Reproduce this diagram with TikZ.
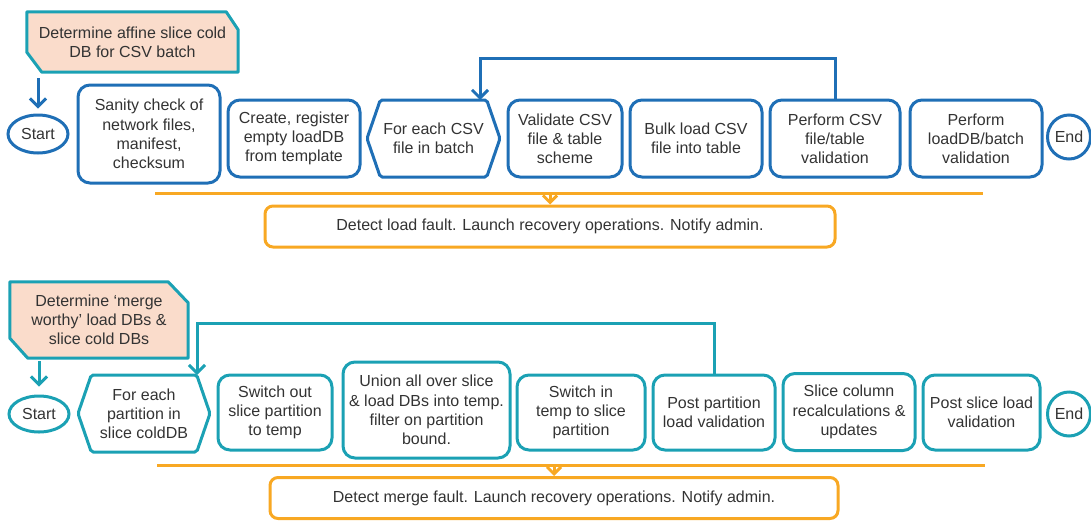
\documentclass[tikz,border=0pt]{standalone}
\usepackage{fontspec}
\setmainfont{Liberation Sans}
\usetikzlibrary{arrows.meta,shapes.geometric,shapes.symbols,backgrounds,calc}
\definecolor{cblue}{HTML}{1F6FB6}
\definecolor{cteal}{HTML}{1BA1B4}
\definecolor{corange}{HTML}{F8A823}
\definecolor{cpeach}{HTML}{FADCCB}
\definecolor{ctext}{HTML}{333333}
\begin{document}
\begin{tikzpicture}[x=1pt,y=-1pt,
  every node/.style={font=\fontsize{16}{19.2}\selectfont, text=ctext, align=center, inner sep=0pt},
  box/.style={draw, rectangle, rounded corners=12pt, line width=3pt},
  hexa/.style={signal, signal to=east and west, signal pointer angle=142, draw, line width=3pt, rounded corners=2pt},
  term/.style={ellipse, draw, line width=3pt},
  fault/.style={draw=corange, rectangle, rounded corners=8pt, line width=3pt},
  labelbox/.style={fill=cpeach, draw=cteal, line width=3pt, line join=round},
  flow/.style={line width=3pt, -{Straight Barb[length=8pt,width=16pt]}},
  oline/.style={draw=corange, line width=3pt},
  oflow/.style={draw=corange, line width=3pt, -{Straight Barb[length=7pt,width=14pt]}}
]
\useasboundingbox (0,0) rectangle (1091,522);

% ---------- upper process ----------
\node[minimum width=211pt, minimum height=60pt] (lab1) at (132.5,42) {Determine affine slice cold\\DB for CSV batch};
\begin{scope}[on background layer]
\path[labelbox] (lab1.north west) -- ($(lab1.north east)+(-12,0)$) -- ($(lab1.north east)+(0,18)$) -- (lab1.south east) -- ($(lab1.south west)+(15,0)$) -- ($(lab1.south west)+(0,-20)$) -- cycle;
\end{scope}

\node[term, draw=cblue, minimum width=60pt, minimum height=38pt] (start1) at (38,134) {Start};
\node[box, draw=cblue, minimum width=142pt, minimum height=98pt] (sanity) at (149,134) {Sanity check of\\network files,\\manifest,\\checksum};
\node[box, draw=cblue, minimum width=132pt, minimum height=77pt] (create) at (294,138.5) {Create, register\\empty loadDB\\from template};
\node[hexa, draw=cblue, minimum width=133pt, minimum height=77pt] (fe1) at (433.5,138.5) {For each CSV\\file in batch};
\node[box, draw=cblue, minimum width=114pt, minimum height=77pt] (valid) at (565,138.5) {Validate CSV\\file \& table\\scheme};
\node[box, draw=cblue, minimum width=132pt, minimum height=77pt] (bulk) at (696,138.5) {Bulk load CSV\\file into table};
\node[box, draw=cblue, minimum width=130pt, minimum height=77pt] (perf1) at (835,138.5) {Perform CSV\\file/table\\validation};
\node[box, draw=cblue, minimum width=132pt, minimum height=77pt] (perf2) at (976,138.5) {Perform\\loadDB/batch\\validation};
\node[term, draw=cblue, minimum width=43pt, minimum height=44pt] (end1) at (1069,137) {End};

\draw[flow, cblue, shorten <=6pt, shorten >=5pt] (lab1.south -| start1.north) -- (start1.north);
\coordinate (fe1in) at (480,100);
\draw[flow, cblue] (perf1.north) -- ++(0,-40) -| (fe1in);

\coordinate (oL1) at (155,193);
\coordinate (oR1) at (983,193);
\node[fault, minimum width=570pt, minimum height=41pt] (fault1) at (550,226.5) {Detect load fault. Launch recovery operations. Notify admin.};
\draw[oline] (oL1) -- (oR1);
\draw[oflow] (fault1.north |- oL1) -- (fault1.north);

% ---------- lower process ----------
\node[minimum width=178pt, minimum height=76pt] (lab2) at (99,320) {Determine ‘merge\\worthy’ load DBs \&\\slice cold DBs};
\begin{scope}[on background layer]
\path[labelbox] (lab2.north west) -- ($(lab2.north east)+(-20,0)$) -- ($(lab2.north east)+(0,21)$) -- (lab2.south east) -- ($(lab2.south west)+(18,0)$) -- ($(lab2.south west)+(0,-20)$) -- cycle;
\end{scope}

\node[term, draw=cteal, minimum width=60pt, minimum height=36pt] (start2) at (39,414) {Start};
\node[hexa, draw=cteal, minimum width=132pt, minimum height=77pt] (fe2) at (144,413.5) {For each\\partition in\\slice coldDB};
\node[box, draw=cteal, minimum width=114pt, minimum height=75pt] (swout) at (275,412.5) {Switch out\\slice partition\\to temp};
\node[box, draw=cteal, minimum width=167pt, minimum height=96pt] (union) at (426.5,410) {Union all over slice\\\& load DBs into temp.\\filter on partition\\bound.};
\node[box, draw=cteal, minimum width=128pt, minimum height=75pt] (swin) at (581,412.5) {Switch in\\temp to slice\\partition};
\node[box, draw=cteal, minimum width=122pt, minimum height=75pt] (postp) at (714,412.5) {Post partition\\load validation};
\node[box, draw=cteal, minimum width=132pt, minimum height=77pt] (slicec) at (849,412) {Slice column\\recalculations \&\\updates};
\node[box, draw=cteal, minimum width=117pt, minimum height=75pt] (posts) at (981.5,412.5) {Post slice load\\validation};
\node[term, draw=cteal, minimum width=43pt, minimum height=44pt] (end2) at (1069,414) {End};

\draw[flow, cteal, shorten <=3pt, shorten >=8pt] (lab2.south -| start2.north) -- (start2.north);
\coordinate (fe2in) at (197,375);
\draw[flow, cteal] (postp.north) -- ++(0,-50) -| (fe2in);

\coordinate (oL2) at (157,465);
\coordinate (oR2) at (985,465);
\node[fault, minimum width=568pt, minimum height=41pt] (fault2) at (554,498) {Detect merge fault. Launch recovery operations. Notify admin.};
\draw[oline] (oL2) -- (oR2);
\draw[oflow] (fault2.north |- oL2) -- (fault2.north);
\end{tikzpicture}
\end{document}
